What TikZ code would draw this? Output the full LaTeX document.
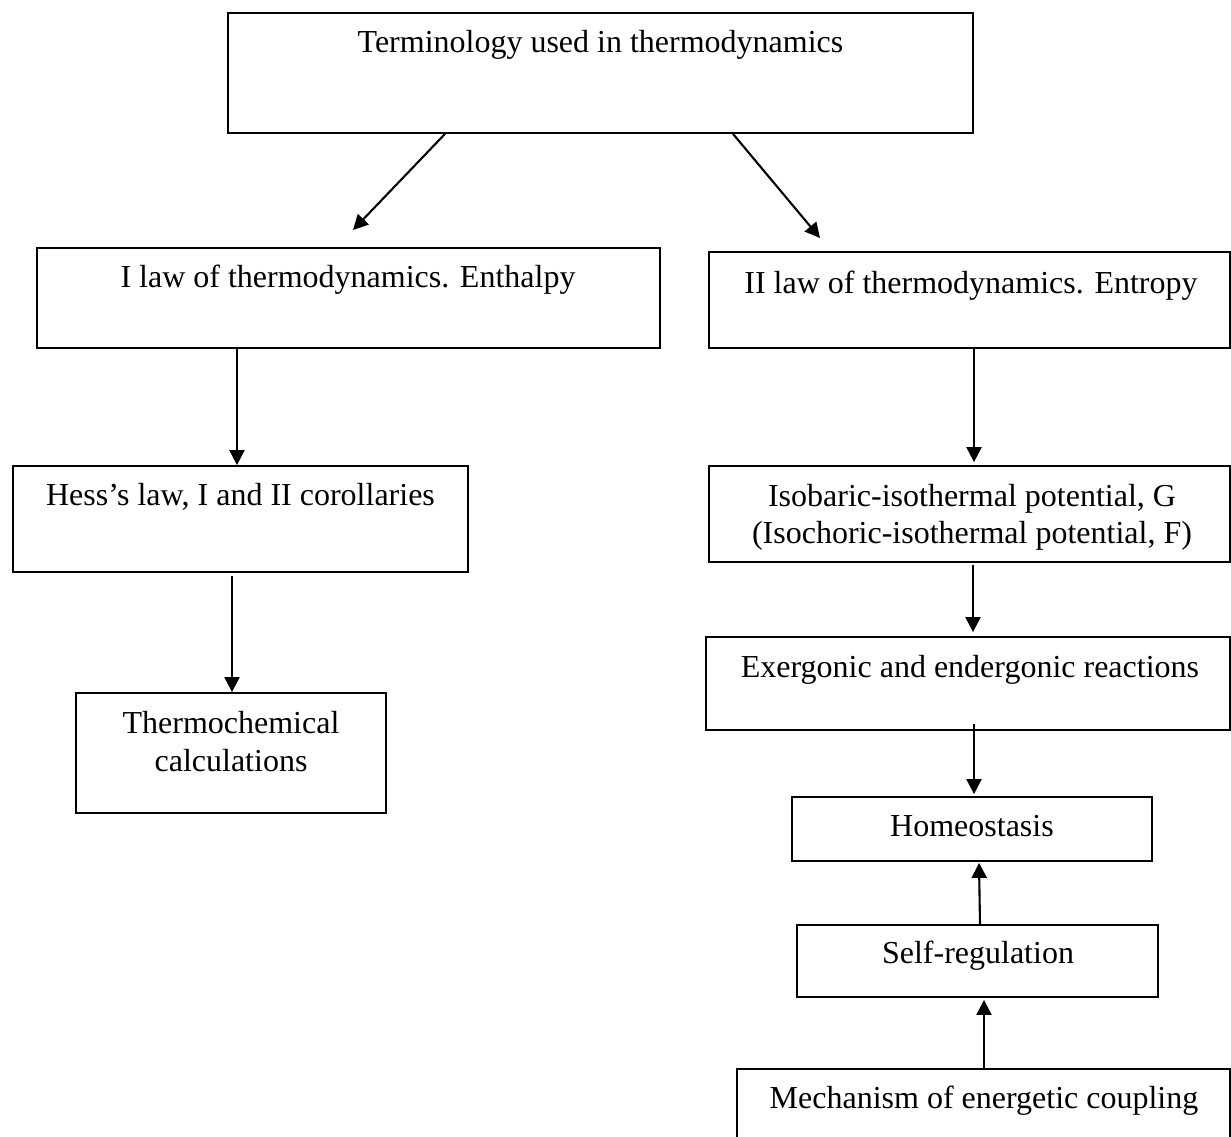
\documentclass[tikz,border=0pt]{standalone}
\usepackage{fontspec}
\setmainfont{Liberation Serif}
\usetikzlibrary{arrows.meta}
\begin{document}
\begin{tikzpicture}[x=1pt,y=-1pt,
  box/.style={draw, line width=1.8pt, inner sep=0pt},
  lbl/.style={anchor=base, inner sep=0pt, font=\fontsize{32pt}{37pt}\selectfont},
  arr/.style={line width=2.1pt, -{Triangle[length=15pt,width=15pt]}}]
\useasboundingbox[fill=white] (0,0) rectangle (1231,1136);

% boxes
\node[box, minimum width=745pt, minimum height=120pt] (top) at (600.5,73) {};
\node[box, minimum width=623pt, minimum height=100pt] (law1) at (348.5,298) {};
\node[box, minimum width=521.3pt, minimum height=96pt] (law2) at (969.65,300) {};
\node[box, minimum width=455pt, minimum height=106pt] (hess) at (240.5,519) {};
\node[box, minimum width=310pt, minimum height=120pt] (thermo) at (231,753) {};
\node[box, minimum width=521.3pt, minimum height=96pt] (iso) at (969.65,514) {};
\node[box, minimum width=524.3pt, minimum height=93pt] (exer) at (968.15,683.5) {};
\node[box, minimum width=360pt, minimum height=64pt] (homeo) at (972,829) {};
\node[box, minimum width=361pt, minimum height=72pt] (selfreg) at (977.5,961) {};
\node[box, minimum width=493.3pt, minimum height=91pt] (mech) at (983.65,1114.5) {};

% labels
\node[lbl] (topT) at (600.5,52) {Terminology used in thermodynamics};
\node[lbl] (law1T) at (348,287) {I law of thermodynamics. Enthalpy};
\node[lbl] (law2T) at (971,293) {II law of thermodynamics. Entropy};
\node[lbl] (hessT) at (240.5,505) {Hess’s law, I and II corollaries};
\node[lbl] (thermoTa) at (231,733) {Thermochemical};
\node[lbl] (thermoTb) at (231,771) {calculations};
\node[lbl] (isoTa) at (972,506) {Isobaric-isothermal potential, G};
\node[lbl] (isoTb) at (972,543) {(Isochoric-isothermal potential, F)};
\node[lbl] (exerT) at (970,677) {Exergonic and endergonic reactions};
\node[lbl] (homeoT) at (972,836) {Homeostasis};
\node[lbl] (selfregT) at (978,963) {Self-regulation};
\node[lbl] (mechT) at (984,1108) {Mechanism of energetic coupling};

% free arrow ends
\coordinate (t1) at (353,230);
\coordinate (t2) at (820,238);

% connectors
\draw[arr] ([xshift=-155.5pt]top.south) -- (t1);
\draw[arr] ([xshift=132.5pt]top.south) -- (t2);
\draw[arr] ([xshift=-111.5pt]law1.south) -- ([xshift=-3.5pt]hess.north);
\draw[arr] ([xshift=-8.5pt,yshift=-3pt]hess.south) -- ([xshift=1pt]thermo.north);
\draw[arr] ([xshift=4.35pt]law2.south) -- ([xshift=4.35pt,yshift=3pt]iso.north);
\draw[arr] ([xshift=3.35pt,yshift=-2pt]iso.south) -- ([xshift=4.85pt,yshift=4pt]exer.north);
\draw[arr] ([xshift=5.85pt,yshift=7pt]exer.south) -- ([xshift=2pt,yshift=2pt]homeo.north);
\draw[arr] ([xshift=2.5pt]selfreg.north) -- ([xshift=7pt,yshift=-1pt]homeo.south);
\draw[arr] ([xshift=0.35pt]mech.north) -- ([xshift=6.5pt,yshift=-2pt]selfreg.south);
\end{tikzpicture}
\end{document}
